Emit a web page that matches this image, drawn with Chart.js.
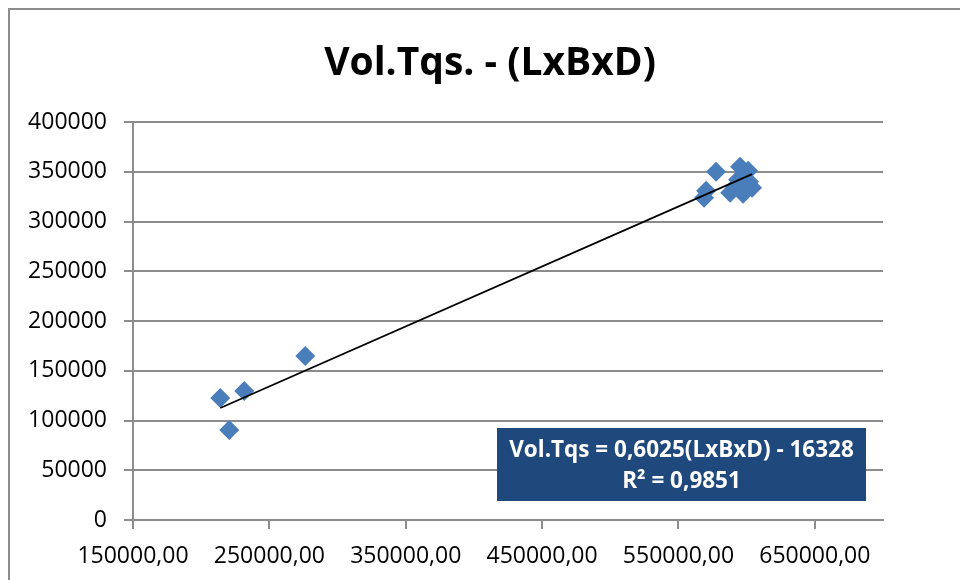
<!DOCTYPE html>
<html>
<head>
<meta charset="utf-8">
<script src="https://cdn.jsdelivr.net/npm/chart.js@4"></script>
<style>
  body { margin: 0; background: #fff; }
  canvas { display: block; }
</style>
</head>
<body>
<canvas id="myChart" width="960" height="580"></canvas>
<script>
// data
const lbdValues = [214000, 220600, 231600, 276300, 577600, 570300, 568800, 595200, 601100, 601800, 604000, 597400, 587900, 593700, 598900, 591600];
const volValues = [122700, 90500, 129700, 164900, 350000, 330900, 323800, 355000, 351000, 339900, 333900, 327900, 328900, 342000, 337000, 334900];
const xTicks = [150000, 250000, 350000, 450000, 550000, 650000];
const xTickLabels = ["150000,00", "250000,00", "350000,00", "450000,00", "550000,00", "650000,00"];
const yTicks = [0, 50000, 100000, 150000, 200000, 250000, 300000, 350000, 400000];

// trendline as given in the chart
const slope = 0.6025;
const intercept = -16328;
const titleText = "Vol.Tqs. - (LxBxD)";
const eqText = ["Vol.Tqs = 0,6025(LxBxD) - 16328", "R² = 0,9851"];

let points = lbdValues.map((v, i) => ({ x: v, y: volValues[i] }));
let xMin = Math.min(...lbdValues);
let xMax = Math.max(...lbdValues);
let trend = [
  { x: xMin, y: slope * xMin + intercept },
  { x: xMax, y: slope * xMax + intercept },
];

// frame, title and equation box
const extras = {
  id: "extras",
  beforeDraw(chart) {
    let c = chart.ctx;
    c.save();
    c.fillStyle = "#fff";
    c.fillRect(0, 0, chart.width, chart.height);
    c.strokeStyle = "#8c8c8c";
    c.lineWidth = 2;
    c.strokeRect(9, 9, chart.width + 20, chart.height + 20);
    c.fillStyle = "#000";
    c.font = "bold 39px 'Open Sans'";
    c.textAlign = "center";
    c.textBaseline = "middle";
    c.fillText(titleText, chart.width / 2 + 10, 64);
    c.restore();
  },
  afterDraw(chart) {
    let c = chart.ctx;
    let a = chart.chartArea;
    let w = 369, h = 73;
    let bx = a.right - 17 - w;
    let by = a.bottom - 19 - h;
    c.save();
    c.fillStyle = "#1f497d";
    c.fillRect(bx, by, w, h);
    c.fillStyle = "#fff";
    c.font = "bold 22.5px 'Open Sans'";
    c.textAlign = "center";
    c.textBaseline = "middle";
    c.fillText(eqText[0], bx + w / 2, by + 23);
    c.fillText(eqText[1], bx + w / 2, by + 54);
    c.restore();
  },
};

const ctx = document.getElementById("myChart");

new Chart(ctx, {
  type: "scatter",
  data: {
    datasets: [
      {
        label: "Vol.Tqs",
        data: points,
        pointStyle: "rectRot",
        pointRadius: 10,
        pointHoverRadius: 10,
        backgroundColor: "#4a7ebb",
        borderColor: "#4a7ebb",
        borderWidth: 0,
        order: 2,
      },
      {
        label: "Trend",
        type: "line",
        data: trend,
        borderColor: "#000",
        borderWidth: 1.8,
        pointRadius: 0,
        fill: false,
        order: 1,
      },
    ],
  },
  options: {
    responsive: false,
    animation: false,
    layout: {
      padding: { left: 0, right: 77, top: 122, bottom: 0 },
    },
    plugins: {
      legend: { display: false },
      tooltip: { enabled: false },
      title: { display: false },
    },
    scales: {
      x: {
        type: "linear",
        min: 150000,
        max: 700000,
        afterBuildTicks: (scale) => {
          scale.ticks = xTicks.map((v) => ({ value: v }));
        },
        afterFit: (scale) => {
          scale.height = 60;
        },
        ticks: {
          callback: (v) => xTickLabels[xTicks.indexOf(v)],
          color: "#000",
          font: { family: "'Open Sans'", size: 23 },
          padding: 14,
          maxRotation: 0,
          autoSkip: false,
        },
        grid: {
          drawOnChartArea: false,
          drawTicks: true,
          tickLength: 9,
          color: "#8c8c8c",
          lineWidth: 2,
        },
        border: { display: true, color: "#8c8c8c", width: 2 },
      },
      y: {
        type: "linear",
        min: 0,
        max: 400000,
        afterBuildTicks: (scale) => {
          scale.ticks = yTicks.map((v) => ({ value: v }));
        },
        afterFit: (scale) => {
          scale.width = 133;
        },
        ticks: {
          callback: (v) => String(v),
          color: "#000",
          font: { family: "'Open Sans'", size: 23 },
          padding: 17,
        },
        grid: {
          drawTicks: true,
          tickLength: 9,
          color: "#8c8c8c",
          lineWidth: 2,
        },
        border: { display: true, color: "#8c8c8c", width: 2 },
      },
    },
  },
  plugins: [extras],
});
</script>
</body>
</html>
